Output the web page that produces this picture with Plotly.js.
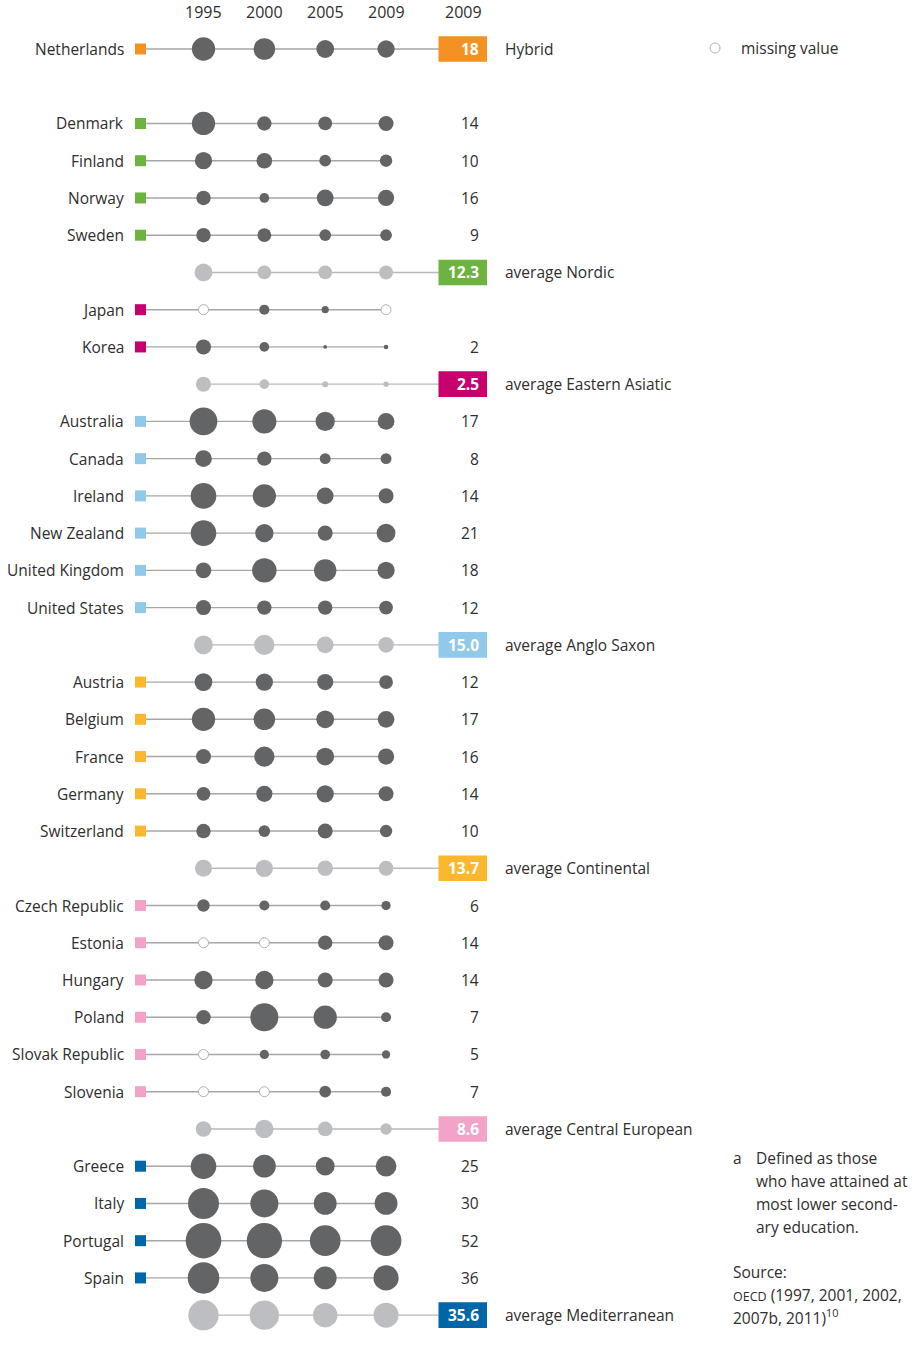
<!DOCTYPE html>
<html><head><meta charset="utf-8">
<script src="https://cdn.plot.ly/plotly-3.0.1.min.js"></script>
<style>html,body{margin:0;padding:0;background:#fff}</style>
</head><body><div id="chart" style="width:918px;height:1347px"></div>
<script>
// ---------- data ----------
const years = ['1995', '2000', '2005', '2009'];
const valueHeader = '2009';
const groups = ['Hybrid', 'Nordic', 'Eastern Asiatic', 'Anglo Saxon', 'Continental', 'Central European', 'Mediterranean'];
const groupColors = ['#f39222', '#6cb33f', '#c8006e', '#91c9ea', '#fbb82e', '#f3a3c7', '#0066a9'];
const countries = ['Netherlands',
  'Denmark', 'Finland', 'Norway', 'Sweden',
  'Japan', 'Korea',
  'Australia', 'Canada', 'Ireland', 'New Zealand', 'United Kingdom', 'United States',
  'Austria', 'Belgium', 'France', 'Germany', 'Switzerland',
  'Czech Republic', 'Estonia', 'Hungary', 'Poland', 'Slovak Republic', 'Slovenia',
  'Greece', 'Italy', 'Portugal', 'Spain'];
const countryGroup = [0, 1, 1, 1, 1, 2, 2, 3, 3, 3, 3, 3, 3, 4, 4, 4, 4, 4, 5, 5, 5, 5, 5, 5, 6, 6, 6, 6];
const v1995 = [31, 31, 18, 13, 13, null, 14, 43, 17, 37, 37, 15, 14, 19, 31, 14, 12, 13, 10, null, 20, 13, null, null, 37, 53, 69, 55];
const v2000 = [27, 13, 15, 6.5, 12, 7, 6.5, 33, 13, 31, 20, 34, 13, 18, 27, 24, 16, 9, 7, null, 20, 44, 6, null, 30, 44, 68, 44];
const v2005 = [19, 12, 9, 17, 9, 4, 1.5, 22, 8, 17, 14, 29, 13, 16, 19, 19, 18, 14, 7, 13, 14, 31, 6.5, 9, 21, 30, 52, 30];
const v2009 = [18, 14, 10, 16, 9, null, 2, 17, 8, 14, 21, 18, 12, 12, 17, 16, 14, 10, 6, 14, 14, 7, 5, 7, 25, 30, 52, 36];
const avgGroups = [1, 2, 3, 4, 5, 6];
const avg1995 = [19, 14, 21, 17.5, 15, 51];
const avg2000 = [12, 6.5, 24, 18, 20, 48];
const avg2005 = [12, 3, 17, 15, 13.4, 34];
const avg2009 = [12.3, 2.5, 15.0, 13.7, 8.6, 35.6];
const legendText = 'missing value';
const noteLines = ['Defined as those', 'who have attained at', 'most lower second-', 'ary education.'];
const sourceLines = ['Source:', '<span style="font-size:12.5px">OECD</span> (1997, 2001, 2002,', '2007b, 2011)<sup>10</sup>'];

// ---------- geometry ----------
const W = 918, H = 1347;
const X0 = 203.5, DX = 60.85;   // pixel of first year column, column spacing
const Y0 = 49, DY = 37.24;      // pixel of first row, row spacing
const px2x = p => (p - X0) / DX;
const py2y = p => (p - Y0) / DY;
const dotSize = v => Math.max(3, 4.5 * Math.sqrt(v) - 1.8);
const FONT = 'Open Sans, Noto Sans, sans-serif';
const FS = 15.5;
const TXT = '#2e2e2e';

const series = [v1995, v2000, v2005, v2009];
const avgSeries = [avg1995, avg2000, avg2005, avg2009];

// assign rows
const countryRow = [];
const avgRow = {};
let row = 0;
groups.forEach((g, gi) => {
  countries.forEach((c, ci) => { if (countryGroup[ci] === gi) { countryRow[ci] = row; row++; } });
  if (gi === 0) { row++; } else { avgRow[gi] = row; row++; }
});

const lineC = {x: [], y: []}, lineA = {x: [], y: []};
const dark = {x: [], y: [], s: []}, miss = {x: [], y: []}, light = {x: [], y: []};
const sq = {x: [], y: [], c: []};
const shapes = [], ann = [];

function text(t, xp, yp, anchor, opts) {
  opts = opts || {};
  ann.push({x: px2x(xp), y: py2y(yp), xref: 'x', yref: 'y', text: t, showarrow: false,
    xanchor: anchor, yanchor: 'middle', borderpad: 0,
    font: {family: FONT, size: opts.size || FS, color: opts.color || TXT, weight: opts.weight || 400}});
}
function box(r, color, label) {
  shapes.push({type: 'rect', xref: 'x', yref: 'y', x0: px2x(438.5), x1: px2x(487),
    y0: r - 12.8 / DY, y1: r + 12.8 / DY, fillcolor: color, line: {width: 0}, layer: 'above'});
  ann.push({x: px2x(480), y: r, xref: 'x', yref: 'y', text: label, showarrow: false,
    xanchor: 'right', yanchor: 'middle', borderpad: 0,
    font: {family: FONT, size: FS, color: '#ffffff', weight: 700}});
}

countries.forEach((c, ci) => {
  const r = countryRow[ci], gi = countryGroup[ci];
  const end = gi === 0 ? px2x(440) : 3;
  lineC.x.push(px2x(146), end, null); lineC.y.push(r, r, null);
  series.forEach((s, j) => {
    if (s[ci] == null) { miss.x.push(j); miss.y.push(r); }
    else { dark.x.push(j); dark.y.push(r); dark.s.push(dotSize(s[ci])); }
  });
  sq.x.push(px2x(140.5)); sq.y.push(r); sq.c.push(groupColors[gi]);
  ann.push({x: px2x(125), y: r, xref: 'x', yref: 'y', text: c, showarrow: false,
    xanchor: 'right', yanchor: 'middle', borderpad: 0, font: {family: FONT, size: FS, color: TXT}});
  if (gi === 0) {
    box(r, groupColors[0], String(v2009[ci]));
    text(groups[0], 504, Y0 + r * DY, 'left');
  } else if (v2009[ci] != null) {
    ann.push({x: px2x(480), y: r, xref: 'x', yref: 'y', text: String(v2009[ci]), showarrow: false,
      xanchor: 'right', yanchor: 'middle', borderpad: 0, font: {family: FONT, size: FS, color: TXT}});
  }
});

const lightS = [];
avgGroups.forEach((gi, k) => {
  const r = avgRow[gi];
  lineA.x.push(0, px2x(440), null); lineA.y.push(r, r, null);
  avgSeries.forEach((s, j) => { light.x.push(j); light.y.push(r); lightS.push(dotSize(s[k])); });
  box(r, groupColors[gi], avg2009[k].toFixed(1));
  text('average ' + groups[gi], 504, Y0 + r * DY, 'left');
});

// headers
years.forEach((y, j) => text(y, X0 + j * DX, 12, 'center', {size: 16}));
text(valueHeader, 463, 12, 'center', {size: 16});

// legend
text(legendText, 740, 48, 'left');

// notes
text('a', 732, 1158, 'left');
noteLines.forEach((t, i) => text(t, 755, 1158 + i * 23, 'left'));
sourceLines.forEach((t, i) => text(t, 732, 1272 + i * 22.5, 'left'));

const traces = [
  {x: lineC.x, y: lineC.y, mode: 'lines', line: {color: '#a6a6a6', width: 1.4}, hoverinfo: 'skip'},
  {x: lineA.x, y: lineA.y, mode: 'lines', line: {color: '#b9b9b9', width: 1.4}, hoverinfo: 'skip'},
  {x: light.x, y: light.y, mode: 'markers', marker: {color: '#bdbec1', opacity: 1, size: lightS, line: {width: 0}}},
  {x: dark.x, y: dark.y, mode: 'markers', marker: {color: '#636466', opacity: 1, size: dark.s, line: {width: 0}}},
  {x: miss.x, y: miss.y, mode: 'markers', marker: {color: '#ffffff', opacity: 1, size: 10, line: {color: '#b0b0b0', width: 1}}},
  {x: [px2x(715)], y: [py2y(48)], mode: 'markers', marker: {color: '#ffffff', opacity: 1, size: 10, line: {color: '#b0b0b0', width: 1}}},
  {x: sq.x, y: sq.y, mode: 'markers', marker: {symbol: 'square', opacity: 1, color: sq.c, size: 11, line: {width: 0}}}
];

const layout = {
  width: W, height: H, margin: {l: 0, r: 0, t: 0, b: 0}, autosize: false,
  paper_bgcolor: '#ffffff', plot_bgcolor: '#ffffff', showlegend: false, hovermode: false,
  xaxis: {range: [px2x(0), px2x(W)], visible: false, fixedrange: true},
  yaxis: {range: [py2y(H), py2y(0)], visible: false, fixedrange: true},
  shapes: shapes, annotations: ann,
  font: {family: FONT, color: TXT}
};
Plotly.newPlot('chart', traces, layout, {staticPlot: true, displayModeBar: false});
</script></body></html>
